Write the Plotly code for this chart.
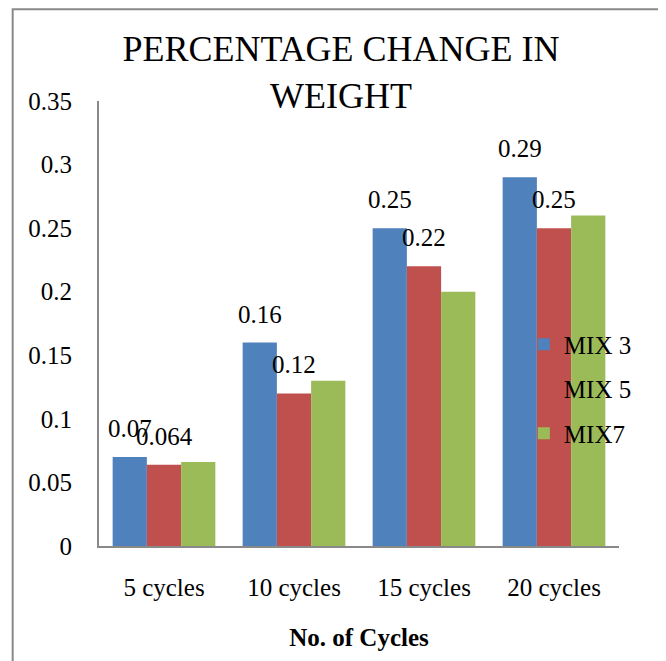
import plotly.graph_objects as go

categories = ["5 cycles", "10 cycles", "15 cycles", "20 cycles"]
mix3 = [0.07, 0.16, 0.25, 0.29]
mix5 = [0.064, 0.12, 0.22, 0.25]
mix7 = [0.066, 0.13, 0.20, 0.26]
series_names = ["MIX 3", "MIX 5", "MIX7"]
colors = ["#4F81BD", "#C0504D", "#9BBB59"]
label_texts_mix3 = ["0.07", "0.16", "0.25", "0.29"]
label_texts_mix5 = ["0.064", "0.12", "0.22", "0.25"]

FONT = "Liberation Serif"

fig = go.Figure()
for i, (name, vals) in enumerate(zip(series_names, [mix3, mix5, mix7])):
    fig.add_trace(go.Bar(
        x=categories, y=vals, name=name,
        marker=dict(color=colors[i], line=dict(width=0)),
        legendgroup=name,
    ))

annotations = []
for vals, texts, shift in [(mix3, label_texts_mix3, -34), (mix5, label_texts_mix5, 0)]:
    for c, v, t in zip(categories, vals, texts):
        annotations.append(dict(
            x=c, y=v, xref="x", yref="y", text=t, showarrow=False,
            xshift=shift, yshift=13, yanchor="bottom",
            font=dict(family=FONT, size=25, color="black"),
        ))

fig.update_layout(
    width=666, height=661,
    margin=dict(l=91, r=55, t=93, b=123),
    paper_bgcolor="white", plot_bgcolor="white",
    font=dict(family=FONT, size=25, color="black"),
    title=dict(text="PERCENTAGE CHANGE IN<br>WEIGHT", x=0.5, xanchor="center",
               y=0.92, yanchor="middle",
               font=dict(family=FONT, size=36, color="black")),
    barmode="group", bargap=0.21, bargroupgap=0,
    showlegend=True,
    legend=dict(x=0.817, y=0.353, xanchor="left", yanchor="middle",
                bgcolor="rgba(0,0,0,0)", font=dict(family=FONT, size=25),
                tracegroupgap=9, itemwidth=30),
    annotations=annotations,
    xaxis=dict(showline=True, linecolor="#898989", linewidth=2,
               showgrid=False, ticks="", ticklabelstandoff=18,
               tickfont=dict(family=FONT, size=25),
               title=dict(text="<b>No. of Cycles</b>", standoff=28,
                          font=dict(family=FONT, size=25))),
    yaxis=dict(range=[0, 0.35], dtick=0.05, showline=True, linecolor="#898989",
               linewidth=2, showgrid=False, zeroline=False, ticks="",
               ticklabelstandoff=20, tickformat="~g",
               tickfont=dict(family=FONT, size=25)),
    shapes=[dict(type="rect", xref="paper", yref="paper",
                 x0=-0.166, x1=1.083, y0=-0.35, y1=1.206,
                 line=dict(color="#898989", width=2), fillcolor="rgba(0,0,0,0)",
                 layer="below")],
)

fig.write_html("out.html")
